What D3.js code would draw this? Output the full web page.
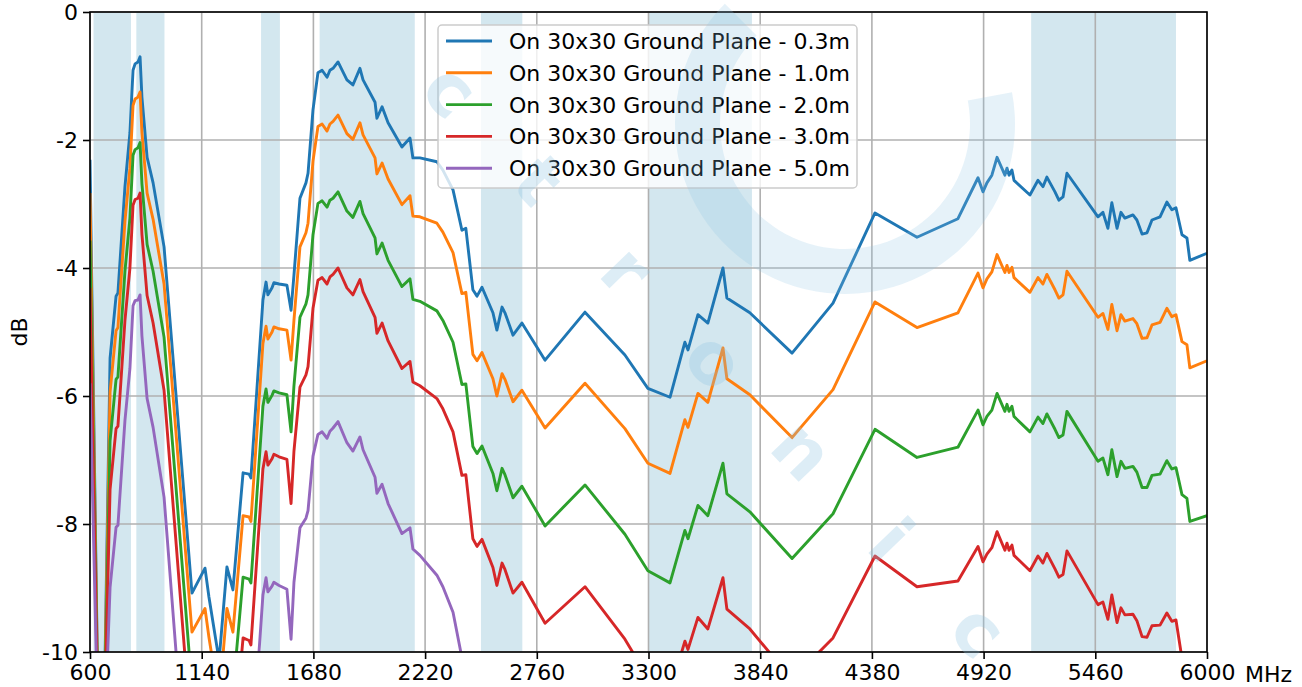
<!DOCTYPE html>
<html>
<head>
<meta charset="utf-8">
<script src="https://cdn.jsdelivr.net/npm/d3@7"></script>
<style>
  body { margin: 0; background: #fff; }
  text { font-family: "DejaVu Sans", sans-serif; }
</style>
</head>
<body>
<script>
// measured frequencies (MHz), shared by all five curves
var freqs = [600,644,663,697,726,735,769,793,808,818,
  832,842,851,876,905,958,1093,1156,1175,1224,
  1262,1291,1340,1369,1378,1436,1451,1460,1480,1489,
  1514,1552,1572,1586,1615,1644,1654,1678,1702,1722,
  1746,1760,1775,1799,1842,1871,1905,1920,1978,1987,
  2012,2041,2108,2147,2161,2195,2277,2306,2355,2398,
  2417,2451,2471,2495,2548,2567,2592,2606,2645,2688,
  2800,2993,3186,3297,3404,3476,3491,3539,3587,3660,
  3679,3790,3994,4192,4395,4598,4796,4893,4917,4936,
  4960,4985,5023,5033,5043,5057,5067,5144,5183,5207,
  5226,5265,5284,5304,5323,5473,5497,5521,5540,5565,
  5584,5603,5642,5661,5686,5710,5734,5773,5806,5830,
  5850,5879,5903,5917,6000];

var gp03 = [-2.31,-12,-12,-5.41,-4.44,-4.39,-2.73,-1.89,-0.91,-0.81,
  -0.78,-0.70,-1.33,-2.27,-2.67,-3.67,-9.08,-8.69,-9.14,-10.13,
  -8.67,-9.03,-7.20,-7.22,-7.28,-4.50,-4.22,-4.42,-4.31,-4.23,
  -4.25,-4.27,-4.66,-4.11,-2.91,-2.67,-2.52,-1.53,-0.95,-0.91,
  -1.02,-0.91,-0.88,-0.78,-1.06,-1.14,-0.88,-1.06,-1.41,-1.66,
  -1.48,-1.73,-2.11,-1.97,-2.28,-2.28,-2.34,-2.47,-2.78,-3.41,
  -3.38,-4.34,-4.44,-4.30,-4.70,-4.97,-4.61,-4.70,-5.05,-4.86,
  -5.44,-4.69,-5.36,-5.88,-6.02,-5.16,-5.28,-4.73,-4.86,-4.00,
  -4.47,-4.70,-5.33,-4.55,-3.14,-3.52,-3.23,-2.59,-2.81,-2.67,
  -2.55,-2.27,-2.55,-2.44,-2.55,-2.47,-2.63,-2.86,-2.63,-2.73,
  -2.58,-2.81,-2.94,-2.89,-2.52,-3.20,-3.13,-3.38,-2.98,-3.38,
  -3.13,-3.22,-3.17,-3.25,-3.47,-3.45,-3.25,-3.20,-2.97,-3.09,
  -3.06,-3.48,-3.53,-3.88,-3.77];

var gp10 = [-2.83,-12,-12,-5.94,-4.98,-4.93,-3.27,-2.44,-1.46,-1.36,
  -1.33,-1.25,-1.88,-2.83,-3.24,-4.25,-9.69,-9.32,-9.77,-10.77,
  -9.32,-9.69,-7.87,-7.89,-7.96,-5.18,-4.91,-5.11,-5.00,-4.92,
  -4.95,-4.97,-5.44,-4.82,-3.67,-3.45,-3.30,-2.33,-1.79,-1.75,
  -1.86,-1.75,-1.71,-1.61,-1.90,-1.99,-1.73,-1.92,-2.28,-2.53,
  -2.36,-2.61,-3.01,-2.87,-3.19,-3.20,-3.30,-3.44,-3.76,-4.40,
  -4.38,-5.35,-5.45,-5.32,-5.73,-6.00,-5.65,-5.74,-6.09,-5.91,
  -6.50,-5.80,-6.51,-7.05,-7.21,-6.37,-6.49,-5.96,-6.10,-5.25,
  -5.73,-5.98,-6.65,-5.90,-4.53,-4.93,-4.70,-4.08,-4.31,-4.17,
  -4.06,-3.79,-4.07,-3.96,-4.07,-3.99,-4.15,-4.38,-4.15,-4.25,
  -4.10,-4.34,-4.47,-4.42,-4.05,-4.77,-4.71,-4.96,-4.57,-4.98,
  -4.73,-4.83,-4.79,-4.87,-5.10,-5.09,-4.89,-4.85,-4.63,-4.76,
  -4.73,-5.15,-5.20,-5.56,-5.45];

var gp20 = [-3.57,-12,-12,-6.70,-5.74,-5.70,-4.05,-3.22,-2.24,-2.15,
  -2.12,-2.04,-2.68,-3.63,-4.05,-5.08,-10.57,-10.21,-10.68,-11.69,
  -10.26,-10.63,-8.83,-8.86,-8.92,-6.16,-5.89,-6.10,-5.99,-5.92,
  -5.95,-5.98,-6.56,-5.84,-4.77,-4.56,-4.42,-3.48,-2.99,-2.95,
  -3.05,-2.94,-2.91,-2.81,-3.11,-3.21,-2.96,-3.15,-3.53,-3.78,
  -3.61,-3.88,-4.29,-4.17,-4.49,-4.52,-4.67,-4.82,-5.16,-5.82,
  -5.81,-6.79,-6.90,-6.78,-7.21,-7.48,-7.13,-7.23,-7.59,-7.41,
  -8.03,-7.39,-8.16,-8.73,-8.92,-8.10,-8.23,-7.71,-7.87,-7.05,
  -7.53,-7.81,-8.54,-7.84,-6.52,-6.96,-6.80,-6.22,-6.45,-6.32,
  -6.22,-5.96,-6.24,-6.13,-6.24,-6.16,-6.32,-6.56,-6.33,-6.43,
  -6.28,-6.52,-6.65,-6.61,-6.24,-7.02,-6.97,-7.23,-6.84,-7.26,
  -7.02,-7.13,-7.10,-7.19,-7.43,-7.43,-7.24,-7.22,-7.01,-7.14,
  -7.12,-7.54,-7.60,-7.96,-7.87];

var gp30 = [-4.31,-12,-12,-7.46,-6.51,-6.47,-4.82,-4.00,-3.02,-2.93,
  -2.91,-2.83,-3.47,-4.43,-4.86,-5.91,-11.45,-11.11,-11.58,-12.61,
  -11.19,-11.57,-9.78,-9.82,-9.89,-7.14,-6.87,-7.08,-6.98,-6.91,
  -6.95,-6.99,-7.68,-6.86,-5.86,-5.67,-5.54,-4.63,-4.19,-4.15,
  -4.25,-4.14,-4.10,-4.00,-4.31,-4.42,-4.18,-4.37,-4.77,-5.02,
  -4.86,-5.14,-5.57,-5.46,-5.78,-5.84,-6.04,-6.20,-6.56,-7.24,
  -7.23,-8.23,-8.35,-8.24,-8.68,-8.96,-8.61,-8.71,-9.08,-8.91,
  -9.55,-8.98,-9.80,-10.40,-10.62,-9.83,-9.96,-9.46,-9.64,-8.84,
  -9.33,-9.64,-10.43,-9.78,-8.50,-8.98,-8.89,-8.35,-8.59,-8.47,
  -8.37,-8.12,-8.41,-8.30,-8.41,-8.33,-8.49,-8.73,-8.50,-8.61,
  -8.46,-8.70,-8.83,-8.79,-8.42,-9.26,-9.22,-9.49,-9.11,-9.54,
  -9.31,-9.42,-9.41,-9.51,-9.76,-9.77,-9.59,-9.58,-9.39,-9.52,
  -9.50,-10.10,-10.20,-10.50,-10.40];

var gp50 = [-5.80,-12,-12,-8.99,-8.05,-8.02,-6.38,-5.57,-4.59,-4.51,
  -4.50,-4.42,-5.06,-6.04,-6.49,-7.58,-13.22,-12.91,-13.40,-14.46,
  -13.07,-13.46,-11.70,-11.76,-11.83,-9.11,-8.84,-9.06,-8.97,-8.91,
  -8.96,-9.02,-9.80,-8.91,-8.06,-7.91,-7.79,-6.94,-6.60,-6.56,
  -6.66,-6.55,-6.50,-6.40,-6.73,-6.86,-6.64,-6.84,-7.27,-7.52,
  -7.38,-7.68,-8.15,-8.06,-8.39,-8.49,-8.80,-8.98,-9.38,-10.09,
  -10.10,-11.13,-11.26,-11.18,-11.65,-11.93,-11.59,-11.70,-12.08,-11.93,
  -12.61,-12.20,-13.10,-13.80,-14.00,-13.30,-13.40,-12.90,-13.10,-12.30,
  -12.90,-13.10,-13.70,-12.90,-11.90,-12.40,-12.20,-11.60,-11.80,-11.70,
  -11.60,-11.30,-11.60,-11.50,-11.60,-11.50,-11.70,-11.90,-11.70,-11.80,
  -11.60,-11.90,-12.00,-12.00,-11.60,-12.50,-12.40,-12.70,-12.30,-12.70,
  -12.40,-12.50,-12.50,-12.60,-12.90,-12.90,-12.70,-12.70,-12.40,-12.60,
  -12.60,-13.10,-13.20,-13.60,-13.40];

var seriesNames = ["On 30x30 Ground Plane - 0.3m", "On 30x30 Ground Plane - 1.0m",
  "On 30x30 Ground Plane - 2.0m", "On 30x30 Ground Plane - 3.0m", "On 30x30 Ground Plane - 5.0m"];
var seriesValues = [gp03, gp10, gp20, gp30, gp50];
var colors = ["#1f77b4", "#ff7f0e", "#2ca02c", "#d62728", "#9467bd"];

// highlighted bands (MHz)
var bands = [[617, 798], [824, 960], [1427, 1518], [1710, 2170], [2490, 2690], [3300, 3800], [5150, 5850]];

var xTicks = [600, 1140, 1680, 2220, 2760, 3300, 3840, 4380, 4920, 5460, 6000];
var yTicks = [0, -2, -4, -6, -8, -10];

var W = 1302, H = 687;
var plot = {left: 90, right: 1207, top: 12, bottom: 652};

var svg = d3.select("body").append("svg")
  .attr("width", W)
  .attr("height", H);

var x = d3.scaleLinear().domain([600, 6000]).range([plot.left, plot.right]);
var y = d3.scaleLinear().domain([-10, 0]).range([plot.bottom, plot.top]);

svg.append("defs").append("clipPath").attr("id", "clip")
  .append("rect")
  .attr("x", plot.left).attr("y", plot.top)
  .attr("width", plot.right - plot.left).attr("height", plot.bottom - plot.top);

// bands
svg.append("g").selectAll("rect").data(bands).enter().append("rect")
  .attr("x", function(d) { return x(d[0]); })
  .attr("y", plot.top)
  .attr("width", function(d) { return x(d[1]) - x(d[0]); })
  .attr("height", plot.bottom - plot.top)
  .attr("fill", "#d3e7ef");

// grid
var grid = svg.append("g").attr("stroke", "#b0b0b0").attr("stroke-width", 1.6);
grid.selectAll(".gx").data(xTicks).enter().append("line")
  .attr("x1", function(d) { return x(d); }).attr("x2", function(d) { return x(d); })
  .attr("y1", plot.top).attr("y2", plot.bottom);
grid.selectAll(".gy").data(yTicks).enter().append("line")
  .attr("y1", function(d) { return y(d); }).attr("y2", function(d) { return y(d); })
  .attr("x1", plot.left).attr("x2", plot.right);

// curves
var line = d3.line()
  .x(function(d) { return x(d[0]); })
  .y(function(d) { return y(d[1]); });

svg.append("g").attr("clip-path", "url(#clip)")
  .selectAll("path").data(seriesValues).enter().append("path")
  .attr("d", function(vals) { return line(freqs.map(function(f, i) { return [f, vals[i]]; })); })
  .attr("fill", "none")
  .attr("stroke", function(d, i) { return colors[i]; })
  .attr("stroke-width", 2.9)
  .attr("stroke-linejoin", "round");

// axes
var xAxis = d3.axisBottom(x).tickValues(xTicks).tickSize(7).tickPadding(5).tickFormat(d3.format("d"));
var yAxis = d3.axisLeft(y).tickValues(yTicks).tickSize(7).tickPadding(5).tickFormat(function(d) { return String(d); });

var gx = svg.append("g")
  .attr("transform", "translate(0," + plot.bottom + ")")
  .call(xAxis);
var gy = svg.append("g")
  .attr("transform", "translate(" + plot.left + ",0)")
  .call(yAxis);

[gx, gy].forEach(function(g) {
  g.select(".domain").remove();
  g.selectAll("line").attr("stroke", "#000").attr("stroke-width", 1.6);
  g.selectAll("text").attr("fill", "#000").style("font-size", "22px")
    .style("font-family", "DejaVu Sans, sans-serif");
});

// spines
svg.append("rect")
  .attr("x", plot.left).attr("y", plot.top)
  .attr("width", plot.right - plot.left).attr("height", plot.bottom - plot.top)
  .attr("fill", "none").attr("stroke", "#000").attr("stroke-width", 1.6);

svg.append("text")
  .attr("x", 1245).attr("y", plot.bottom + 30)
  .style("font-size", "22px")
  .text("MHz");

svg.append("text")
  .attr("transform", "translate(27," + ((plot.top + plot.bottom) / 2) + ") rotate(-90)")
  .attr("text-anchor", "middle")
  .style("font-size", "22px")
  .text("dB");

// legend
var legend = svg.append("g");
legend.append("rect")
  .attr("x", 438).attr("y", 25).attr("width", 419).attr("height", 163)
  .attr("rx", 4)
  .attr("fill", "#fff").attr("fill-opacity", 0.8)
  .attr("stroke", "#cccccc").attr("stroke-width", 1.5);

var items = legend.selectAll(".item").data(seriesNames).enter().append("g")
  .attr("transform", function(d, i) { return "translate(0," + (41 + i * 31.8) + ")"; });
items.append("line")
  .attr("x1", 446).attr("x2", 492)
  .attr("stroke", function(d, i) { return colors[i]; })
  .attr("stroke-width", 2.9);
items.append("text")
  .attr("x", 509).attr("y", 8)
  .style("font-size", "22px")
  .text(function(d) { return d; });

// faint watermark laid over the figure
var mark = svg.append("g").attr("pointer-events", "none");

mark.append("path")
  .attr("transform", "translate(845,124)")
  .attr("d", d3.arc().innerRadius(125).outerRadius(170)
    .startAngle(Math.PI * 0.44).endAngle(Math.PI * 1.75)())
  .attr("fill", "#8fc3e2")
  .attr("fill-opacity", 0.22);

var markLetters = "ctronic".split("");
mark.selectAll("text").data(markLetters).enter().append("text")
  .attr("transform", function(d, i) {
    return "translate(" + (451 + i * 88) + "," + (90 + i * 90) + ") rotate(46)";
  })
  .attr("text-anchor", "middle")
  .attr("dy", "0.35em")
  .style("font-family", "'DejaVu Sans', sans-serif")
  .style("font-weight", "bold")
  .style("font-size", "72px")
  .attr("fill", "#8fc3e2")
  .attr("fill-opacity", 0.3)
  .text(function(d) { return d; });
</script>
</body>
</html>
